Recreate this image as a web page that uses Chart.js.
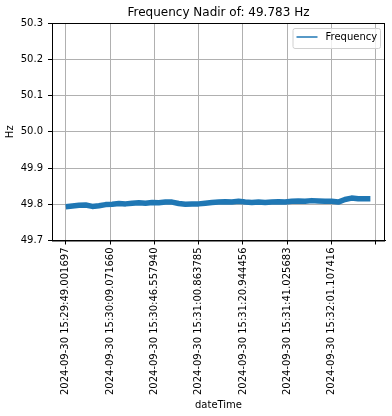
<!DOCTYPE html>
<html>
<head>
<meta charset="utf-8">
<script src="https://cdn.jsdelivr.net/npm/chart.js@4.4.0/dist/chart.umd.min.js"></script>
<style>
  html, body { margin: 0; padding: 0; background: #fff; }
  #wrap { width: 392px; height: 416px; }
</style>
</head>
<body>
<div id="wrap"><canvas id="freqChart" width="392" height="416"></canvas></div>
<script>
// sample index along the run (category position) and frequency in Hz
const sampleIdx = [0, 30, 60, 90, 120, 150, 180, 210, 240, 270, 300, 330, 360, 390, 420, 450,
    480, 510, 540, 570, 600, 630, 660, 690, 720, 750, 780, 810, 840, 870, 900, 930, 960, 990,
    1020, 1050, 1080, 1110, 1140, 1170, 1200, 1230, 1260, 1290, 1320, 1350, 1375];
const freqHz = [49.793, 49.795, 49.797, 49.798, 49.794, 49.796, 49.799, 49.800, 49.802, 49.801,
    49.803, 49.804, 49.803, 49.805, 49.804, 49.806, 49.806, 49.802, 49.800, 49.801, 49.801,
    49.803, 49.805, 49.806, 49.807, 49.806, 49.808, 49.806, 49.805, 49.806, 49.805, 49.806,
    49.807, 49.806, 49.808, 49.809, 49.808, 49.810, 49.809, 49.808, 49.808, 49.806, 49.813,
    49.817, 49.815, 49.815, 49.815];

const tickIdx = [0, 200, 400, 600, 800, 1000, 1200, 1400];
const tickLabels = [
    '2024-09-30 15:29:49.001697',
    '2024-09-30 15:30:09.071660',
    '2024-09-30 15:30:46.557940',
    '2024-09-30 15:31:00.863785',
    '2024-09-30 15:31:20.944456',
    '2024-09-30 15:31:41.025683',
    '2024-09-30 15:32:01.107416',
    ''
];
const yTicks = [49.7, 49.8, 49.9, 50.0, 50.1, 50.2, 50.3];
const nadir = 49.783;

const FONT = 'DejaVu Sans';
const BLUE = '#1f77b4';

// matplotlib-like box, title over the axes and legend inside the axes
const framePlugin = {
    id: 'frame',
    afterDraw(chart) {
        const { ctx, chartArea: a } = chart;
        ctx.save();
        ctx.strokeStyle = '#000';
        ctx.lineWidth = 1;
        ctx.strokeRect(a.left + 0.5, a.top + 0.5, a.right - a.left - 1, a.bottom - a.top);

        ctx.fillStyle = '#000';
        ctx.font = '12px ' + FONT;
        ctx.textAlign = 'center';
        ctx.textBaseline = 'middle';
        ctx.fillText('Frequency Nadir of: ' + nadir + ' Hz', (a.left + a.right) / 2, 13);

        const bx = 292.5, by = 28, bw = a.right - 5 - bx, bh = 20;
        ctx.fillStyle = 'rgba(255,255,255,0.8)';
        ctx.strokeStyle = '#d0d0d0';
        ctx.beginPath();
        ctx.roundRect(bx + 0.5, by + 0.5, bw, bh, 2);
        ctx.fill();
        ctx.stroke();

        ctx.strokeStyle = BLUE;
        ctx.lineWidth = 1.5;
        ctx.beginPath();
        ctx.moveTo(bx + 4, by + 9);
        ctx.lineTo(bx + 25, by + 9);
        ctx.stroke();

        ctx.fillStyle = '#000';
        ctx.font = '10px ' + FONT;
        ctx.textAlign = 'left';
        ctx.fillText('Frequency', bx + 33, by + 9.5);
        ctx.restore();
    }
};

new Chart(document.getElementById('freqChart'), {
    type: 'line',
    data: {
        datasets: [{
            label: 'Frequency',
            data: sampleIdx.map((x, i) => ({ x, y: freqHz[i] })),
            borderColor: BLUE,
            backgroundColor: BLUE,
            borderWidth: 5.5,
            borderJoinStyle: 'round',
            pointRadius: 0,
            tension: 0
        }]
    },
    options: {
        responsive: false,
        animation: false,
        layout: { padding: { left: 4, right: 7, top: 23, bottom: 0 } },
        plugins: {
            legend: { display: false },
            tooltip: { enabled: false },
            title: { display: false }
        },
        scales: {
            x: {
                type: 'linear',
                min: -62,
                max: 1441,
                afterBuildTicks: scale => {
                    scale.ticks = tickIdx.map(v => ({ value: v }));
                },
                afterFit: scale => { scale.height = 175.5; },
                ticks: {
                    minRotation: 90,
                    maxRotation: 90,
                    autoSkip: false,
                    padding: 3,
                    color: '#000',
                    font: { family: FONT, size: 10 },
                    callback: (v, i) => tickLabels[i]
                },
                grid: { color: '#b0b0b0', tickColor: '#000', tickLength: 4 },
                border: { color: '#000' },
                title: {
                    display: true,
                    text: 'dateTime',
                    color: '#000',
                    font: { family: FONT, size: 10 },
                    padding: { top: 0, bottom: 5 }
                }
            },
            y: {
                min: 49.7,
                max: 50.3,
                afterBuildTicks: scale => {
                    scale.ticks = yTicks.map(v => ({ value: v }));
                },
                afterFit: scale => { scale.width = 48; },
                ticks: {
                    padding: 5,
                    color: '#000',
                    font: { family: FONT, size: 10 },
                    callback: v => v.toFixed(1)
                },
                grid: { color: '#b0b0b0', tickColor: '#000', tickLength: 4 },
                border: { color: '#000' },
                title: {
                    display: true,
                    text: 'Hz',
                    color: '#000',
                    font: { family: FONT, size: 10 },
                    padding: { top: 0, bottom: 0 }
                }
            }
        }
    },
    plugins: [framePlugin]
});
</script>
</body>
</html>
